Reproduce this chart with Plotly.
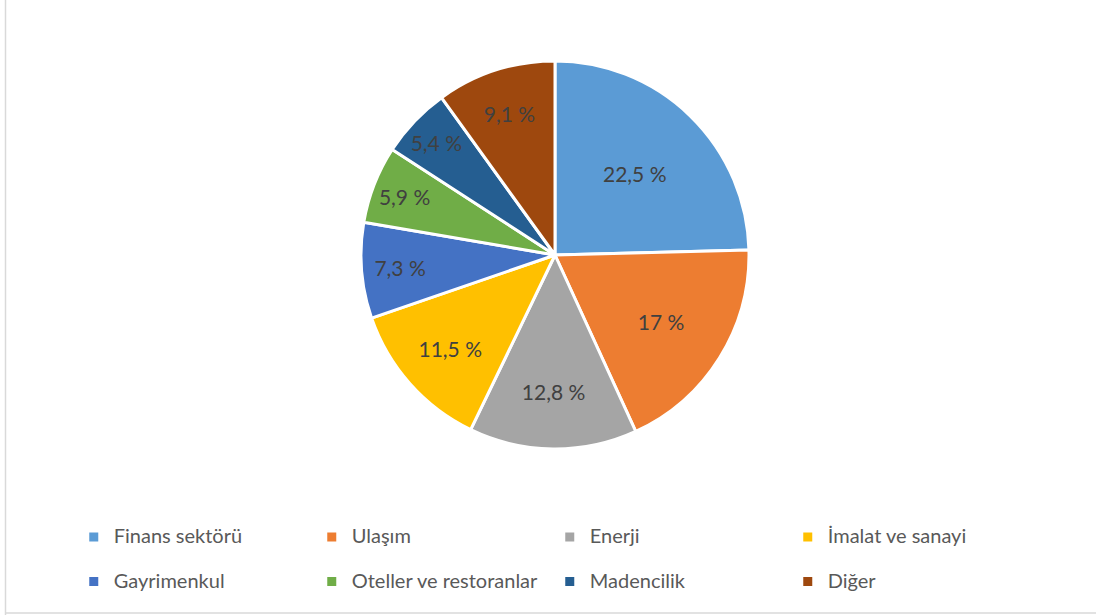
import plotly.graph_objects as go

categories = ["Finans sektörü", "Ulaşım", "Enerji", "İmalat ve sanayi",
              "Gayrimenkul", "Oteller ve restoranlar", "Madencilik", "Diğer"]
values = [22.5, 17, 12.8, 11.5, 7.3, 5.9, 5.4, 9.1]
colors = ["#5B9BD5", "#ED7D31", "#A5A5A5", "#FFC000",
          "#4472C4", "#70AD47", "#255E91", "#9E480E"]

def fmt(v):
    s = ("%g" % v).replace(".", ",")
    return s + " %"

text_labels = [fmt(v) for v in values]
# larger visible text; blank second line gives the legend rows the reference's spacing
legend_labels = ["<span style='font-size:20px'>" + c + "</span><br>\u00a0" for c in categories]

FONT = "Lato"
W, H = 1096, 615

fig = go.Figure(go.Pie(
    labels=legend_labels,
    values=values,
    text=text_labels,
    textinfo="text",
    textposition="inside",
    insidetextorientation="horizontal",
    insidetextfont=dict(family=FONT, size=21, color="#404040"),
    sort=False,
    direction="clockwise",
    rotation=0,
    marker=dict(colors=colors, line=dict(color="white", width=3)),
    domain=dict(x=[361/W, 749/W], y=[1-449/H, 1-61/H]),
    hovertext=categories,
    hoverinfo="text+value",
))

fig.update_layout(
    width=W, height=H,
    margin=dict(l=0, r=0, t=0, b=0, autoexpand=False),
    paper_bgcolor="white",
    plot_bgcolor="white",
    font=dict(family=FONT, color="#595959"),
    showlegend=True,
    legend=dict(
        orientation="h",
        x=0.0673, xanchor="left",
        yref="container",
        y=1-520/H, yanchor="top",
        entrywidth=193, entrywidthmode="pixels",
        font=dict(family=FONT, size=16, color="#595959"),
        valign="top",
        itemwidth=30,
        traceorder="normal",
        bgcolor="rgba(0,0,0,0)",
    ),
    shapes=[
        dict(type="line", xref="paper", yref="paper", x0=5.5/W, x1=5.5/W, y0=0, y1=1,
             line=dict(color="#D9D9D9", width=1.5), layer="above"),
        dict(type="line", xref="paper", yref="paper", x0=5/W, x1=1, y0=1-613/H, y1=1-613/H,
             line=dict(color="#D9D9D9", width=1.5), layer="above"),
    ],
)

fig.write_html("out.html", config={"displayModeBar": False},
               post_script="document.body.style.margin='0';document.body.style.overflow='hidden';")
